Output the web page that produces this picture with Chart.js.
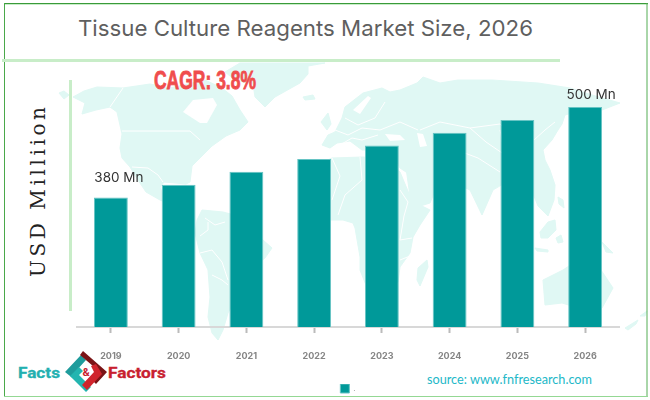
<!DOCTYPE html>
<html>
<head>
<meta charset="utf-8">
<title>Tissue Culture Reagents Market Size</title>
<script src="https://cdn.jsdelivr.net/npm/chart.js@4"></script>
<style>
    html, body { margin: 0; padding: 0; background: #fff; }
    #wrap { position: relative; width: 650px; height: 400px; overflow: hidden; }
    #fondo, #grafico { position: absolute; left: 0; top: 0; }
    .mapa polygon { fill: #e0f8f4; stroke: #e0f8f4; stroke-width: 1; stroke-linejoin: round; }
    .hueco polygon { fill: #fff; }
    .fronteras polyline { fill: none; stroke: #fff; stroke-width: 1; }
</style>
</head>
<body>
<div id="wrap">
<svg id="fondo" width="650" height="400" viewBox="0 0 650 400" xmlns="http://www.w3.org/2000/svg">
    <!-- mapa de fondo, solo decorativo -->
    <g class="mapa">
        <polygon points="59,93 64,91 69,95 64,99"/>
        <polygon points="73,97 84,91 97,87 123,88 150,84 170,88 205,80 222,88 232,96 240,110 248,122 240,130 226,136 212,146 205,153 192,166 190,182 186,184 164,182 160,187 164,198 170,204 160,200 146,192 138,180 130,167 122,158 120,148 122,134 117,112 110,107 96,110 82,114 85,103"/>
        <polygon points="240,63 325,63 308,66 308,74 300,83 275,97 265,107 255,97 253,84 235,80 225,72"/>
        <polygon points="303,97 313,95 315,99 305,100"/>
        <polygon points="321,122 328,113 331,124 327,130"/>
        <polygon points="202,210 223,212 238,216 263,240 272,248 265,258 250,270 240,290 228,313 223,330 218,340 212,333 208,317 210,297 208,270 200,253 195,233 197,220"/>
        <polygon points="322,145 328,135 335,132 342,118 345,107 363,93 382,88 390,92 400,90 417,83 423,77 440,83 458,80 492,80 538,83 570,88 592,95 620,103 602,110 575,112 565,115 562,124 558,130 552,140 543,150 545,160 550,170 555,185 554,200 548,216 538,206 534,196 510,180 493,190 482,215 470,190 440,176 432,193 418,180 400,168 396,160 380,150 362,150 350,141 337,143 330,148"/>
        <polygon points="332,158 363,157 385,160 400,172 410,196 420,205 430,210 420,225 413,237 410,253 400,267 398,282 385,292 368,290 360,270 360,257 355,228 353,223 343,220 330,220 300,215 300,190 306,170"/>
        <polygon points="406,168 432,176 434,193 430,203 417,207 410,196"/>
        <polygon points="427,260 428,267 420,286 417,280 418,268"/>
        <polygon points="558,197 563,200 564,208 559,204"/>
        <polygon points="540,232 548,222 555,220 556,230 548,238 541,238"/>
        <polygon points="556,238 561,235 563,242 558,243"/>
        <polygon points="535,248 548,250 548,252 537,251"/>
        <polygon points="602,242 608,248 613,253 606,252"/>
        <polygon points="543,280 563,270 575,262 590,255 603,273 613,288 602,308 585,310 562,303 545,305"/>
        <polygon points="625,328 638,320 636,324 628,330"/>
        <polygon points="640,316 647,311 645,316"/>
    </g>
    <g class="hueco">
        <polygon points="183,112 193,100 213,98 217,105 207,123 200,123"/>
        <polygon points="417,133 423,134 427,146 420,147"/>
        <polygon points="385,134 400,135 405,140 390,141"/>
        <polygon points="353,110 368,96 371,98 360,114"/>
    </g>
    <g class="fronteras">
        <polyline points="110,107 123,88"/>
        <polyline points="122,131 190,131 200,140"/>
        <polyline points="132,167 148,168 158,175 163,182"/>
        <polyline points="205,218 215,225 225,222"/>
        <polyline points="200,236 208,230 208,222"/>
        <polyline points="200,253 212,250 222,262 228,280"/>
        <polyline points="212,275 222,280 228,285"/>
        <polyline points="335,130 348,135 362,128 380,130 400,122 418,130"/>
        <polyline points="345,118 358,125 375,118 385,102"/>
        <polyline points="340,145 352,138 362,140 378,135"/>
        <polyline points="332,158 340,176 332,200"/>
        <polyline points="360,157 362,180 345,195 338,215"/>
        <polyline points="400,190 408,202 404,216 400,240"/>
        <polyline points="400,240 412,238"/>
        <polyline points="400,260 410,256"/>
        <polyline points="420,130 440,122 470,128 500,124 512,136 534,130"/>
        <polyline points="470,128 486,142 505,155 500,130"/>
        <polyline points="534,140 545,130 555,122"/>
        <polyline points="440,158 462,152 478,158 500,172"/>
    </g>

    <!-- marco y reglas verdes -->
    <line x1="4" y1="3.5" x2="648" y2="3.5" stroke="#3a9a3a" stroke-width="1"/>
    <line x1="4" y1="4.5" x2="648" y2="4.5" stroke="#c8edc8" stroke-width="1"/>
    <line x1="4.5" y1="3" x2="4.5" y2="397" stroke="#4aa84a" stroke-width="1"/>
    <line x1="647" y1="3" x2="647" y2="397" stroke="#55ad55" stroke-width="1"/>
    <line x1="4" y1="396.5" x2="648" y2="396.5" stroke="#94d894" stroke-width="1"/>
    <line x1="2" y1="60.5" x2="560" y2="60.5" stroke="#c8edc8" stroke-width="3"/>
    <line x1="70.5" y1="80" x2="70.5" y2="311" stroke="#c8edc8" stroke-width="3"/>

    <!-- textos -->
    <text x="78" y="36" font-family="Inter, sans-serif" font-size="22" fill="#5f5f5f" textLength="455" lengthAdjust="spacingAndGlyphs">Tissue Culture Reagents Market Size, 2026</text>
    <text x="154" y="89" font-family="'Liberation Sans Narrow', sans-serif" font-weight="700" font-size="25" fill="#f04d4d" stroke="#f04d4d" stroke-width="0.8" textLength="102" lengthAdjust="spacingAndGlyphs">CAGR: 3.8%</text>
    <text transform="translate(45 277) rotate(-90)" font-family="'DejaVu Serif', serif" font-size="20" fill="#222" textLength="170" lengthAdjust="spacing">USD Milliion</text>
    <text x="427" y="384" font-family="Lato, sans-serif" font-size="14" fill="#22b8c8" textLength="165" lengthAdjust="spacingAndGlyphs">source: www.fnfresearch.com</text>

    <!-- logo -->
    <text x="18" y="378" font-family="Roboto, sans-serif" font-weight="700" font-size="15" fill="#22b0b0" stroke="#22b0b0" stroke-width="0.3" textLength="42" lengthAdjust="spacingAndGlyphs">Facts</text>
    <text x="108" y="378" font-family="Roboto, sans-serif" font-weight="700" font-size="15" fill="#c8202f" stroke="#c8202f" stroke-width="0.3" textLength="58" lengthAdjust="spacingAndGlyphs">Factors</text>
    <polygon points="65,372 81,355 86,360 75,372 79,376 75,380" fill="#1f9c9c"/>
    <polygon points="70,376 86,392 91,387 79,375 83,371 79,367" fill="#23b5b0"/>
    <polygon points="83,351 107,372 96,384 92,380 100,372 80,355" fill="#7a1416"/>
    <polygon points="102,374 87,390 82,385 94,372 91,366 96,364" fill="#d0242c"/>
    <text x="86" y="376" text-anchor="middle" font-family="Roboto, sans-serif" font-weight="700" font-size="11" fill="#c8202f">&amp;</text>
</svg>
<canvas id="grafico" width="650" height="400"></canvas>
</div>

<script>
const anios = ['2019', '2020', '2021', '2022', '2023', '2024', '2025', '2026'];
const valores = [380, 397, 414, 431, 449, 466, 483, 500];
const etiquetas = ['380 Mn', '', '', '', '', '', '', '500 Mn'];

// las etiquetas del original no van centradas sobre la barra
const etiquetasPlugin = {
    id: 'etiquetas',
    afterDatasetsDraw(chart) {
        const ctx = chart.ctx;
        const barras = chart.getDatasetMeta(0).data;
        ctx.save();
        ctx.font = '13.5px Inter, sans-serif';
        ctx.fillStyle = '#333';
        ctx.textAlign = 'center';
        ctx.textBaseline = 'middle';
        barras.forEach((barra, i) => {
            if (!etiquetas[i]) return;
            const arriba = i === 0 ? 20 : 12;
            const lado = i === 0 ? 8 : 6;
            ctx.fillText(etiquetas[i], barra.x + lado, barra.y - arriba);
        });
        ctx.restore();
    }
};

new Chart(document.getElementById('grafico'), {
    type: 'bar',
    data: {
        labels: anios,
        datasets: [{
            label: '.',
            data: valores,
            backgroundColor: '#009999',
            borderColor: '#66c4c4',
            borderWidth: 1,
            barPercentage: 0.5,
            categoryPercentage: 1
        }]
    },
    options: {
        responsive: false,
        animation: false,
        layout: { padding: { left: 77, right: 31, top: 80, bottom: -3 } },
        scales: {
            x: {
                afterFit: scale => { scale.height = 57; },
                grid: { offset: false, drawOnChartArea: false, tickLength: 6, tickColor: '#bbb', tickWidth: 2 },
                border: { color: '#d8d8d8', width: 2 },
                ticks: {
                    color: '#858585',
                    padding: 18,
                    maxRotation: 0,
                    font: { family: 'Inter, sans-serif', size: 9, weight: 'bold' }
                }
            },
            y: { display: false, min: 208, max: 536 }
        },
        plugins: {
            legend: {
                position: 'bottom',
                labels: {
                    boxWidth: 9,
                    boxHeight: 9,
                    padding: 0,
                    color: '#888',
                    font: { family: 'Inter, sans-serif', size: 8 }
                }
            },
            tooltip: { enabled: false }
        },
        elements: { bar: { borderSkipped: false } }
    },
    plugins: [etiquetasPlugin]
});
</script>
</body>
</html>
